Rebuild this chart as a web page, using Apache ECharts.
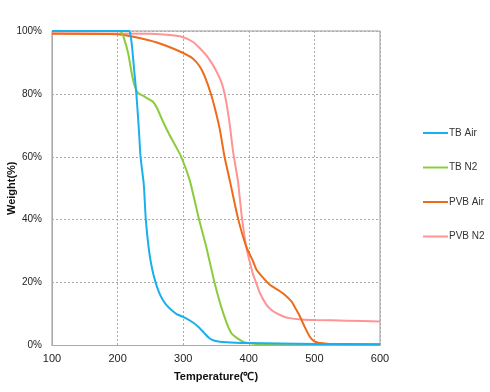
<!DOCTYPE html>
<html>
<head>
<meta charset="utf-8">
<script src="https://cdn.jsdelivr.net/npm/echarts@6/dist/echarts.min.js"></script>
<style>html,body{margin:0;padding:0;background:#fff}#c{width:490px;height:392px}</style>
</head>
<body>
<div id="c"></div>
<script>
const seriesNames = ['TB Air', 'TB N2', 'PVB Air', 'PVB N2'];
const xTicks = [100, 200, 300, 400, 500, 600];
const yTicks = [0, 20, 40, 60, 80, 100];

const tbAir = [[100,100],[217,100],[219,99.5],[222,95],[225.5,87],[228.6,80],[232,70],[235,60],[240,51],[243,40],[248,30],[253,24],[258,20],[263,17],[269,14.5],[276,12.5],[282,11.3],[290,10],[300,9.1],[312,7.7],[323,6],[332,4],[340,2.3],[348,1.5],[356,1.2],[380,0.9],[400,0.8],[500,0.5],[600,0.4]];
const tbN2 = [[100,100],[203,100],[206,99.5],[210,97.5],[216,93],[222,86],[226,82.5],[231,80.3],[238,79.5],[246,78.5],[254,77.5],[260,75.5],[269,71.3],[279,67],[290,62.8],[297,60],[310,52.5],[324,40.2],[335,31.5],[348,19.8],[361,10.3],[373.5,3.9],[391,1.2],[412,0.5],[450,0.3],[600,0.2]];
const pvbAir = [[100,99.1],[200,99],[249,97],[274,95.3],[300,93],[315,91.2],[325,88.8],[333,85.5],[343,79.5],[350,74],[356,68.5],[363,60],[371,52.5],[383.5,40.5],[396,31.5],[406,27],[412,24],[422,21.5],[432,19.3],[445,17.6],[452,16.6],[465,14],[472,11.5],[478,9.2],[485,6],[493,2.8],[500,1.3],[506,0.9],[523,0.5],[600,0.3]];
const pvbN2 = [[100,99.3],[250,99.1],[280,98.7],[300,98],[315,96.5],[325,94.6],[335,92.3],[345,89.3],[352,86.6],[358,83.8],[362,81],[366,77],[371,70.2],[376,61.7],[383.5,52.2],[388.7,42.1],[396,31.5],[406,23],[412,19.5],[417,16.6],[427,12.9],[435,11.2],[442,10.3],[452,9.3],[462,8.7],[480,8.3],[503,8.1],[550,7.9],[600,7.6]];

const colors = ['#1AB0EE', '#8CCC3C', '#EE6B1A', '#FF9494'];
const data = [tbAir, tbN2, pvbAir, pvbN2];

const chart = echarts.init(document.getElementById('c'), null, {renderer: 'canvas'});
chart.setOption({
  animation: false,
  backgroundColor: '#fff',
  grid: {left: 52, right: 110, top: 31, bottom: 46.5, show: true, borderColor: '#999', borderWidth: 1, containLabel: false, outerBoundsMode: 'none'},
  legend: {
    orient: 'vertical', left: 418, top: 123, itemGap: 24.5,
    itemWidth: 25, itemHeight: 12,
    icon: 'path://M0,5 L25,5 L25,7 L0,7 Z',
    textStyle: {fontFamily: 'Liberation Sans', fontSize: 10, color: '#333', padding: [0,0,0,-4]},
    data: seriesNames
  },
  xAxis: {
    type: 'value', min: xTicks[0], max: xTicks[xTicks.length-1], interval: 100,
    name: 'Temperature(℃)', nameLocation: 'middle', nameGap: 26, nameMoveOverlap: false,
    nameTextStyle: {fontFamily: 'Liberation Sans', fontWeight: 'bold', fontSize: 11, color: '#111'},
    axisLine: {lineStyle: {color: '#aaa', width: 1}},
    axisTick: {show: false},
    axisLabel: {fontFamily: 'Liberation Sans', fontSize: 11, color: '#222', margin: 8},
    splitLine: {show: true, lineStyle: {color: '#aaa', type: [2, 2], width: 1}}
  },
  yAxis: {
    type: 'value', min: yTicks[0], max: yTicks[yTicks.length-1], interval: 20,
    name: 'Weight(%)', nameLocation: 'middle', nameGap: 35, nameRotate: 90, nameMoveOverlap: false,
    nameTextStyle: {fontFamily: 'Liberation Sans', fontWeight: 'bold', fontSize: 11, color: '#111'},
    axisLine: {show: true, lineStyle: {color: '#aaa', width: 1}},
    axisTick: {show: false},
    axisLabel: {fontFamily: 'Liberation Sans', fontSize: 10, color: '#222', margin: 10, formatter: '{value}%'},
    splitLine: {show: true, lineStyle: {color: '#aaa', type: [2, 2], width: 1}}
  },
  series: seriesNames.map((n, i) => ({
    name: n, type: 'line', data: data[i], showSymbol: false, symbol: 'none',
    smooth: 0.2,
    lineStyle: {color: colors[i], width: 2}, itemStyle: {color: colors[i]},
    z: 10 - i
  }))
});
</script>
</body>
</html>
